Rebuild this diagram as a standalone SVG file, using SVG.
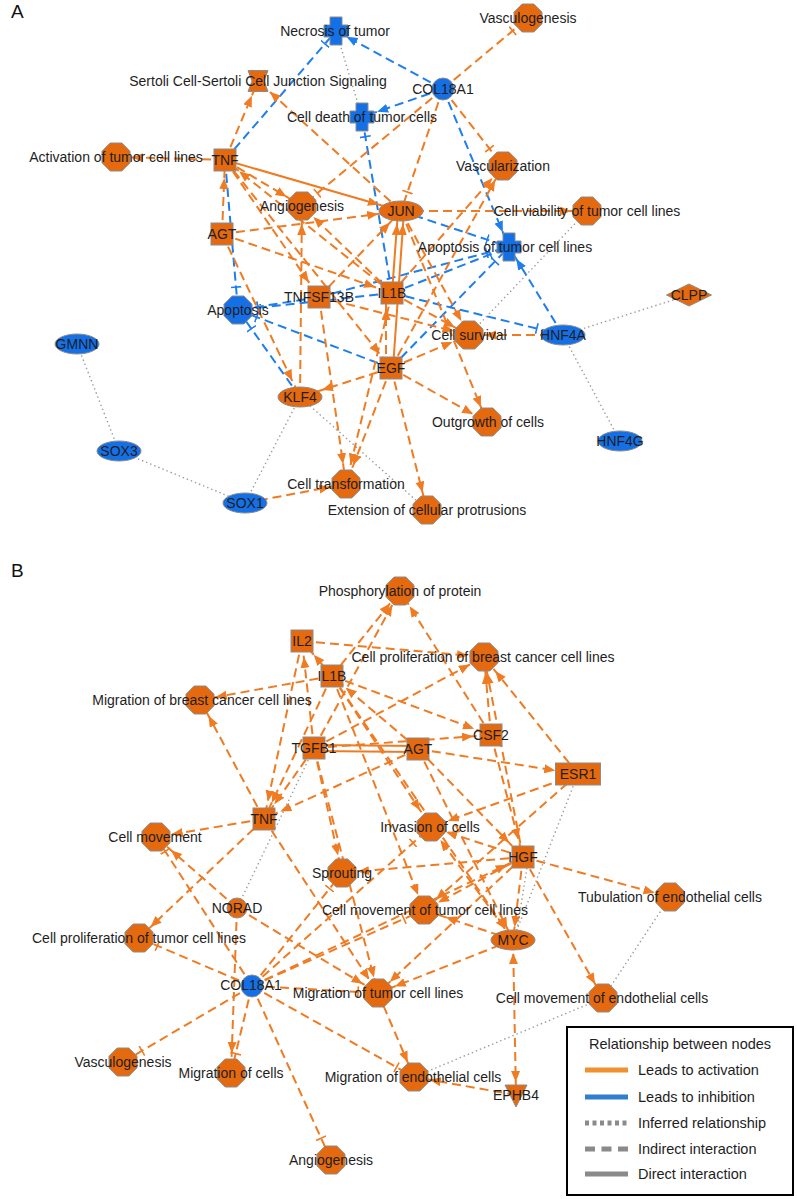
<svg xmlns="http://www.w3.org/2000/svg" xmlns:xlink="http://www.w3.org/1999/xlink" width="797" height="1199" viewBox="0 0 797 1199">
<style>
.o{stroke:#EF7B22;stroke-width:2;stroke-dasharray:9 5;fill:none}
.s{stroke:#EF7B22;stroke-width:2;fill:none}
.b{stroke:#1F7EEB;stroke-width:2;stroke-dasharray:9 5;fill:none}
.d{stroke:#9a9a9a;stroke-width:1.4;stroke-dasharray:1.4 3;fill:none}
.no{fill:#E5690E;stroke:#8c8c8c;stroke-width:1}
.nb{fill:#1570E6;stroke:#8c8c8c;stroke-width:1}
.t{font-family:"Liberation Sans",Arial,sans-serif;font-size:14px;fill:#1e1e1e;text-anchor:middle}
.p{font-family:"Liberation Sans",Arial,sans-serif;font-size:19px;fill:#111}
.lg{font-family:"Liberation Sans",Arial,sans-serif;font-size:14.5px;fill:#1e1e1e}
</style>
<defs>
<path id="oct" d="M-5.8,-14H5.8L14,-5.8V5.8L5.8,14H-5.8L-14,5.8V-5.8Z"/>
<rect id="sq" x="-11" y="-11" width="22" height="22"/>
<ellipse id="ell" rx="22" ry="10"/>
<path id="plus" d="M-6,-14H6V-6H12V6H6V14H-6V6H-12V-6H-6Z"/>
<path id="hg" d="M-10,-10.5H10L6,0L10,10.5H-10L-6,0Z"/>
<path id="dia" d="M-22.5,0L0,-11L22.5,0L0,11Z"/>
<path id="tri" d="M-11,-10H11L0,12Z"/>
<marker id="oa13" markerUnits="userSpaceOnUse" markerWidth="26" markerHeight="10" refX="24" refY="4.5" orient="auto"><path d="M0,0L11,4.5L0,9Z" fill="#EF7B22"/></marker>
<marker id="oa13r" markerUnits="userSpaceOnUse" markerWidth="26" markerHeight="10" refX="24" refY="4.5" orient="auto-start-reverse"><path d="M0,0L11,4.5L0,9Z" fill="#EF7B22"/></marker>
<marker id="oa16" markerUnits="userSpaceOnUse" markerWidth="29" markerHeight="10" refX="27" refY="4.5" orient="auto"><path d="M0,0L11,4.5L0,9Z" fill="#EF7B22"/></marker>
<marker id="oa18" markerUnits="userSpaceOnUse" markerWidth="31" markerHeight="10" refX="29" refY="4.5" orient="auto"><path d="M0,0L11,4.5L0,9Z" fill="#EF7B22"/></marker>
<marker id="oa20" markerUnits="userSpaceOnUse" markerWidth="33" markerHeight="10" refX="31" refY="4.5" orient="auto"><path d="M0,0L11,4.5L0,9Z" fill="#EF7B22"/></marker>
<marker id="oa23" markerUnits="userSpaceOnUse" markerWidth="36" markerHeight="10" refX="34" refY="4.5" orient="auto"><path d="M0,0L11,4.5L0,9Z" fill="#EF7B22"/></marker>
<marker id="ba12" markerUnits="userSpaceOnUse" markerWidth="25" markerHeight="10" refX="23" refY="4.5" orient="auto"><path d="M0,0L11,4.5L0,9Z" fill="#1F7EEB"/></marker>
<marker id="ba14" markerUnits="userSpaceOnUse" markerWidth="27" markerHeight="10" refX="25" refY="4.5" orient="auto"><path d="M0,0L11,4.5L0,9Z" fill="#1F7EEB"/></marker>
<marker id="ba16" markerUnits="userSpaceOnUse" markerWidth="29" markerHeight="10" refX="27" refY="4.5" orient="auto"><path d="M0,0L11,4.5L0,9Z" fill="#1F7EEB"/></marker>
<marker id="ot17" markerUnits="userSpaceOnUse" markerWidth="21" markerHeight="11" refX="18" refY="5.5" orient="auto"><path d="M1,0V11" stroke="#EF7B22" stroke-width="1.6"/></marker>
<marker id="ot20" markerUnits="userSpaceOnUse" markerWidth="24" markerHeight="11" refX="21" refY="5.5" orient="auto"><path d="M1,0V11" stroke="#EF7B22" stroke-width="1.6"/></marker>
<marker id="ot22" markerUnits="userSpaceOnUse" markerWidth="26" markerHeight="11" refX="23" refY="5.5" orient="auto"><path d="M1,0V11" stroke="#EF7B22" stroke-width="1.6"/></marker>
<marker id="ot24" markerUnits="userSpaceOnUse" markerWidth="28" markerHeight="11" refX="25" refY="5.5" orient="auto"><path d="M1,0V11" stroke="#EF7B22" stroke-width="1.6"/></marker>
<marker id="bt17" markerUnits="userSpaceOnUse" markerWidth="21" markerHeight="11" refX="18" refY="5.5" orient="auto"><path d="M1,0V11" stroke="#1F7EEB" stroke-width="1.6"/></marker>
<marker id="bt20" markerUnits="userSpaceOnUse" markerWidth="24" markerHeight="11" refX="21" refY="5.5" orient="auto"><path d="M1,0V11" stroke="#1F7EEB" stroke-width="1.6"/></marker>
<marker id="bt23" markerUnits="userSpaceOnUse" markerWidth="27" markerHeight="11" refX="24" refY="5.5" orient="auto"><path d="M1,0V11" stroke="#1F7EEB" stroke-width="1.6"/></marker>
<marker id="bt27" markerUnits="userSpaceOnUse" markerWidth="31" markerHeight="11" refX="28" refY="5.5" orient="auto"><path d="M1,0V11" stroke="#1F7EEB" stroke-width="1.6"/></marker>
</defs>
<rect width="797" height="1199" fill="#fff"/>
<text class="p" x="11" y="18">A</text>
<text class="p" x="11" y="577">B</text>

<g id="connectors-a">
<line class="d" x1="336" y1="31" x2="362" y2="117"/>
<line class="d" x1="587" y1="211" x2="469" y2="335"/>
<line class="d" x1="563" y1="335" x2="689" y2="295"/>
<line class="d" x1="563" y1="335" x2="620" y2="441"/>
<line class="d" x1="245" y1="503" x2="300" y2="397"/>
<line class="d" x1="245" y1="503" x2="119" y2="451"/>
<line class="d" x1="119" y1="451" x2="77" y2="344"/>
<line class="d" x1="300" y1="397" x2="427" y2="510"/>
<line class="b" x1="443" y1="89" x2="336" y2="31" marker-end="url(#ba12)"/>
<line class="b" x1="225" y1="160" x2="336" y2="31" marker-end="url(#bt17)"/>
<line class="b" x1="443" y1="89" x2="362" y2="117" marker-end="url(#ba16)"/>
<line class="b" x1="392" y1="293" x2="362" y2="117" marker-end="url(#bt20)"/>
<line class="b" x1="443" y1="89" x2="509" y2="247" marker-end="url(#ba16)"/>
<line class="b" x1="401" y1="211" x2="509" y2="247" marker-end="url(#bt23)"/>
<line class="b" x1="319" y1="297" x2="509" y2="247" marker-end="url(#bt23)"/>
<line class="b" x1="392" y1="293" x2="509" y2="247" marker-end="url(#bt20)"/>
<line class="b" x1="391" y1="368" x2="509" y2="247" marker-end="url(#bt20)"/>
<line class="b" x1="563" y1="335" x2="509" y2="247" marker-end="url(#ba14)"/>
<line class="b" x1="392" y1="293" x2="563" y2="335" marker-end="url(#bt27)"/>
<line class="b" x1="225" y1="160" x2="238" y2="310" marker-end="url(#bt23)"/>
<line class="b" x1="319" y1="297" x2="238" y2="310" marker-end="url(#bt20)"/>
<line class="b" x1="392" y1="293" x2="238" y2="310" marker-end="url(#bt20)"/>
<line class="b" x1="391" y1="368" x2="238" y2="310" marker-end="url(#bt20)"/>
<line class="b" x1="300" y1="397" x2="238" y2="310" marker-end="url(#bt23)"/>
<line class="o" x1="443" y1="89" x2="528" y2="18" marker-end="url(#ot20)"/>
<line class="o" x1="443" y1="89" x2="503" y2="166" marker-end="url(#ot22)"/>
<line class="o" x1="443" y1="89" x2="401" y2="211" marker-end="url(#ot20)"/>
<line class="o" x1="443" y1="89" x2="302" y2="206" marker-end="url(#ot20)"/>
<line class="o" x1="225" y1="160" x2="258" y2="81" marker-end="url(#oa16)"/>
<line class="o" x1="401" y1="211" x2="258" y2="81" marker-end="url(#oa16)"/>
<line class="o" x1="225" y1="160" x2="116" y2="157" marker-end="url(#oa16)"/>
<line class="s" x1="225" y1="160" x2="401" y2="211" marker-end="url(#oa23)"/>
<line class="o" x1="225" y1="160" x2="302" y2="206" marker-end="url(#oa18)"/>
<line class="o" x1="392" y1="293" x2="225" y2="160" marker-end="url(#oa18)"/>
<line class="o" x1="222" y1="234" x2="225" y2="160" marker-end="url(#oa18)"/>
<line class="o" x1="225" y1="160" x2="319" y2="297" marker-end="url(#oa18)"/>
<line class="o" x1="225" y1="160" x2="391" y2="368" marker-end="url(#oa18)"/>
<line class="o" x1="222" y1="234" x2="401" y2="211" marker-end="url(#oa23)"/>
<line class="o" x1="222" y1="234" x2="392" y2="293" marker-end="url(#oa18)"/>
<line class="o" x1="222" y1="234" x2="300" y2="397" marker-end="url(#oa18)"/>
<line class="o" x1="300" y1="397" x2="302" y2="206" marker-end="url(#oa18)"/>
<line class="o" x1="392" y1="293" x2="302" y2="206" marker-end="url(#oa16)"/>
<line class="o" x1="319" y1="297" x2="401" y2="211" marker-end="url(#oa16)"/>
<line class="s" x1="392" y1="293" x2="398" y2="211" marker-end="url(#oa13)"/>
<line class="s" x1="393" y1="368" x2="404" y2="211" marker-end="url(#oa13)"/>
<line class="o" x1="386" y1="368" x2="386" y2="293" marker-end="url(#oa16)"/>
<line class="o" x1="392" y1="293" x2="503" y2="166" marker-end="url(#oa16)"/>
<line class="o" x1="391" y1="368" x2="503" y2="166" marker-end="url(#oa16)"/>
<line class="o" x1="401" y1="211" x2="587" y2="211" marker-end="url(#oa16)"/>
<line class="o" x1="401" y1="211" x2="469" y2="335" marker-end="url(#oa16)"/>
<line class="o" x1="401" y1="211" x2="487" y2="422" marker-end="url(#oa16)"/>
<line class="o" x1="391" y1="368" x2="469" y2="335" marker-end="url(#oa18)"/>
<line class="o" x1="319" y1="297" x2="469" y2="335" marker-end="url(#oa16)"/>
<line class="o" x1="392" y1="293" x2="469" y2="335" marker-end="url(#oa16)"/>
<line class="o" x1="563" y1="335" x2="469" y2="335" marker-end="url(#oa16)"/>
<line class="o" x1="391" y1="368" x2="487" y2="422" marker-end="url(#oa16)"/>
<line class="o" x1="391" y1="368" x2="427" y2="510" marker-end="url(#oa18)"/>
<line class="o" x1="391" y1="368" x2="346" y2="484" marker-end="url(#oa20)"/>
<line class="o" x1="319" y1="297" x2="346" y2="484" marker-end="url(#oa20)"/>
<line class="o" x1="392" y1="293" x2="346" y2="484" marker-end="url(#oa20)"/>
<line class="o" x1="391" y1="368" x2="300" y2="397" marker-end="url(#oa23)"/>
<line class="o" x1="245" y1="503" x2="346" y2="484" marker-end="url(#oa16)"/>
</g>

<g id="connectors-b">
<line class="d" x1="578" y1="774" x2="513" y2="940"/>
<line class="d" x1="527" y1="868" x2="517" y2="930"/>
<line class="d" x1="670" y1="897" x2="603" y2="998"/>
<line class="d" x1="603" y1="998" x2="414" y2="1077"/>
<line class="d" x1="237" y1="908" x2="314" y2="748"/>
<line class="o" x1="302" y1="641" x2="484" y2="657" marker-end="url(#oa16)"/>
<line class="o" x1="332" y1="676" x2="302" y2="641" marker-end="url(#oa18)"/>
<line class="o" x1="314" y1="748" x2="302" y2="641" marker-end="url(#oa16)"/>
<line class="o" x1="302" y1="641" x2="264" y2="819" marker-end="url(#oa18)"/>
<line class="o" x1="332" y1="676" x2="264" y2="819" marker-end="url(#oa18)"/>
<line class="o" x1="314" y1="748" x2="264" y2="819" marker-end="url(#oa18)"/>
<line class="o" x1="418" y1="749" x2="264" y2="819" marker-end="url(#oa18)"/>
<line class="o" x1="332" y1="676" x2="200" y2="700" marker-end="url(#oa16)"/>
<line class="o" x1="264" y1="819" x2="200" y2="700" marker-end="url(#oa18)"/>
<line class="o" x1="264" y1="819" x2="156" y2="837" marker-end="url(#oa16)"/>
<line class="o" x1="264" y1="819" x2="139" y2="938" marker-end="url(#oa16)"/>
<line class="o" x1="264" y1="819" x2="378" y2="993" marker-end="url(#oa16)"/>
<line class="o" x1="314" y1="748" x2="342" y2="873" marker-end="url(#oa18)"/>
<line class="o" x1="314" y1="748" x2="400" y2="591" marker-end="url(#oa16)"/>
<line class="o" x1="332" y1="676" x2="400" y2="591" marker-end="url(#oa16)"/>
<line class="o" x1="314" y1="748" x2="484" y2="657" marker-end="url(#oa16)"/>
<line class="s" x1="314" y1="745" x2="418" y2="746"/>
<line class="s" x1="314" y1="751" x2="418" y2="752"/>
<line class="o" x1="314" y1="748" x2="491" y2="735" marker-end="url(#oa18)"/>
<line class="o" x1="332" y1="676" x2="491" y2="735" marker-end="url(#oa18)"/>
<line class="o" x1="332" y1="676" x2="431" y2="827" marker-end="url(#oa20)"/>
<line class="o" x1="418" y1="749" x2="332" y2="676" marker-end="url(#oa18)"/>
<line class="o" x1="491" y1="735" x2="484" y2="657" marker-end="url(#oa16)"/>
<line class="o" x1="523" y1="857" x2="484" y2="657" marker-end="url(#oa16)"/>
<line class="o" x1="491" y1="735" x2="400" y2="591" marker-end="url(#oa18)"/>
<line class="o" x1="578" y1="774" x2="484" y2="657" marker-end="url(#oa18)"/>
<line class="o" x1="578" y1="774" x2="431" y2="827" marker-end="url(#oa18)"/>
<line class="o" x1="578" y1="774" x2="424" y2="910" marker-end="url(#oa16)"/>
<line class="o" x1="418" y1="749" x2="578" y2="774" marker-end="url(#oa23)"/>
<line class="o" x1="418" y1="749" x2="523" y2="857" marker-end="url(#oa20)"/>
<line class="o" x1="491" y1="735" x2="523" y2="857" marker-end="url(#oa18)"/>
<line class="o" x1="523" y1="857" x2="431" y2="827" marker-end="url(#oa16)"/>
<line class="o" x1="513" y1="940" x2="431" y2="827" marker-end="url(#oa16)"/>
<line class="o" x1="523" y1="857" x2="342" y2="873" marker-end="url(#oa16)"/>
<line class="o" x1="523" y1="857" x2="424" y2="910" marker-end="url(#oa16)"/>
<line class="o" x1="523" y1="857" x2="513" y2="940" marker-end="url(#oa13)"/>
<line class="o" x1="523" y1="857" x2="670" y2="897" marker-end="url(#oa16)"/>
<line class="o" x1="523" y1="857" x2="603" y2="998" marker-end="url(#oa16)"/>
<line class="o" x1="523" y1="857" x2="378" y2="993" marker-end="url(#oa16)"/>
<line class="o" x1="513" y1="940" x2="424" y2="910" marker-end="url(#oa23)"/>
<line class="o" x1="513" y1="940" x2="378" y2="993" marker-end="url(#oa18)"/>
<line class="o" x1="513" y1="940" x2="516" y2="1095" marker-start="url(#oa13r)" marker-end="url(#oa13)"/>
<line class="o" x1="516" y1="1095" x2="414" y2="1077" marker-end="url(#oa16)"/>
<line class="o" x1="378" y1="993" x2="414" y2="1077" marker-end="url(#oa16)"/>
<line class="o" x1="252" y1="986" x2="414" y2="1077" marker-end="url(#ot20)"/>
<line class="o" x1="252" y1="986" x2="331" y2="1160" marker-end="url(#ot24)"/>
<line class="o" x1="252" y1="986" x2="231" y2="1073" marker-end="url(#ot20)"/>
<line class="o" x1="237" y1="908" x2="231" y2="1073" marker-end="url(#oa20)"/>
<line class="o" x1="252" y1="986" x2="123" y2="1062" marker-end="url(#ot22)"/>
<line class="o" x1="252" y1="986" x2="139" y2="938" marker-end="url(#ot20)"/>
<line class="o" x1="252" y1="986" x2="378" y2="993" marker-end="url(#ot20)"/>
<line class="o" x1="252" y1="986" x2="424" y2="910" marker-end="url(#ot22)"/>
<line class="o" x1="252" y1="986" x2="342" y2="873" marker-end="url(#ot20)"/>
<line class="o" x1="252" y1="986" x2="431" y2="827" marker-end="url(#ot24)"/>
<line class="o" x1="252" y1="986" x2="156" y2="837" marker-end="url(#ot17)"/>
<line class="o" x1="237" y1="908" x2="156" y2="837" marker-end="url(#oa20)"/>
<line class="o" x1="237" y1="908" x2="378" y2="993" marker-end="url(#oa18)"/>
<line class="o" x1="418" y1="749" x2="513" y2="940" marker-end="url(#oa13)"/>
<line class="o" x1="332" y1="676" x2="513" y2="940" marker-end="url(#oa13)"/>
<line class="o" x1="332" y1="676" x2="424" y2="910" marker-end="url(#oa16)"/>
<line class="o" x1="314" y1="748" x2="378" y2="993" marker-end="url(#oa16)"/>
<line class="o" x1="252" y1="986" x2="523" y2="857" marker-end="url(#oa18)"/>
</g>

<g id="a-necrosis"><use xlink:href="#plus" x="336" y="31" class="nb"/><text class="t" x="335" y="36">Necrosis of tumor</text></g>
<g id="a-vasculogenesis"><use xlink:href="#oct" x="528" y="18" class="no"/><text class="t" x="528" y="23">Vasculogenesis</text></g>
<g id="a-sertoli"><use xlink:href="#hg" x="258" y="81" class="no"/><text class="t" x="258" y="86">Sertoli Cell-Sertoli Cell Junction Signaling</text></g>
<g id="a-col18a1"><circle cx="443" cy="89" r="11" class="nb"/><text class="t" x="443" y="94">COL18A1</text></g>
<g id="a-celldeath"><use xlink:href="#plus" x="362" y="117" class="nb"/><text class="t" x="362" y="122">Cell death of tumor cells</text></g>
<g id="a-activation"><use xlink:href="#oct" x="116" y="157" class="no"/><text class="t" x="116" y="162">Activation of tumor cell lines</text></g>
<g id="a-tnf"><use xlink:href="#sq" x="225" y="160" class="no"/><text class="t" x="225" y="165">TNF</text></g>
<g id="a-vascularization"><use xlink:href="#oct" x="503" y="166" class="no"/><text class="t" x="503" y="171">Vascularization</text></g>
<g id="a-angiogenesis"><use xlink:href="#oct" x="302" y="206" class="no"/><text class="t" x="302" y="211">Angiogenesis</text></g>
<g id="a-jun"><use xlink:href="#ell" x="401" y="211" class="no"/><text class="t" x="401" y="216">JUN</text></g>
<g id="a-viability"><use xlink:href="#oct" x="587" y="211" class="no"/><text class="t" x="587" y="216">Cell viability of tumor cell lines</text></g>
<g id="a-agt"><use xlink:href="#sq" x="222" y="234" class="no"/><text class="t" x="222" y="239">AGT</text></g>
<g id="a-apoptosis-tumor"><use xlink:href="#plus" x="509" y="247" class="nb"/><text class="t" x="505" y="252">Apoptosis of tumor cell lines</text></g>
<g id="a-tnfsf13b"><use xlink:href="#sq" x="319" y="297" class="no"/><text class="t" x="319" y="302">TNFSF13B</text></g>
<g id="a-il1b"><use xlink:href="#sq" x="392" y="293" class="no"/><text class="t" x="392" y="298">IL1B</text></g>
<g id="a-apoptosis"><use xlink:href="#oct" x="238" y="310" class="nb"/><text class="t" x="238" y="315">Apoptosis</text></g>
<g id="a-clpp"><use xlink:href="#dia" x="689" y="295" class="no"/><text class="t" x="689" y="300">CLPP</text></g>
<g id="a-survival"><use xlink:href="#oct" x="469" y="335" class="no"/><text class="t" x="469" y="340">Cell survival</text></g>
<g id="a-hnf4a"><use xlink:href="#ell" x="563" y="335" class="nb"/><text class="t" x="563" y="340">HNF4A</text></g>
<g id="a-gmnn"><use xlink:href="#ell" x="77" y="344" class="nb"/><text class="t" x="77" y="349">GMNN</text></g>
<g id="a-egf"><use xlink:href="#sq" x="391" y="368" class="no"/><text class="t" x="391" y="373">EGF</text></g>
<g id="a-klf4"><use xlink:href="#ell" x="300" y="397" class="no"/><text class="t" x="300" y="402">KLF4</text></g>
<g id="a-outgrowth"><use xlink:href="#oct" x="487" y="422" class="no"/><text class="t" x="488" y="427">Outgrowth of cells</text></g>
<g id="a-hnf4g"><use xlink:href="#ell" x="620" y="441" class="nb"/><text class="t" x="620" y="446">HNF4G</text></g>
<g id="a-sox3"><use xlink:href="#ell" x="119" y="451" class="nb"/><text class="t" x="119" y="456">SOX3</text></g>
<g id="a-transformation"><use xlink:href="#oct" x="346" y="484" class="no"/><text class="t" x="346" y="489">Cell transformation</text></g>
<g id="a-sox1"><use xlink:href="#ell" x="245" y="503" class="nb"/><text class="t" x="245" y="508">SOX1</text></g>
<g id="a-extension"><use xlink:href="#oct" x="427" y="510" class="no"/><text class="t" x="427" y="515">Extension of cellular protrusions</text></g>

<g id="b-phosphorylation"><use xlink:href="#oct" x="400" y="591" class="no"/><text class="t" x="400" y="596">Phosphorylation of protein</text></g>
<g id="b-il2"><use xlink:href="#sq" x="302" y="641" class="no"/><text class="t" x="302" y="646">IL2</text></g>
<g id="b-prolif-breast"><use xlink:href="#oct" x="484" y="657" class="no"/><text class="t" x="483" y="662">Cell proliferation of breast cancer cell lines</text></g>
<g id="b-il1b"><use xlink:href="#sq" x="332" y="676" class="no"/><text class="t" x="332" y="681">IL1B</text></g>
<g id="b-migration-breast"><use xlink:href="#oct" x="200" y="700" class="no"/><text class="t" x="202" y="705">Migration of breast cancer cell lines</text></g>
<g id="b-csf2"><use xlink:href="#sq" x="491" y="735" class="no"/><text class="t" x="491" y="740">CSF2</text></g>
<g id="b-tgfb1"><use xlink:href="#sq" x="314" y="748" class="no"/><text class="t" x="314" y="753">TGFB1</text></g>
<g id="b-agt"><use xlink:href="#sq" x="418" y="749" class="no"/><text class="t" x="418" y="754">AGT</text></g>
<g id="b-esr1"><rect x="555.5" y="763" width="45" height="22" class="no"/><text class="t" x="578" y="779">ESR1</text></g>
<g id="b-tnf"><use xlink:href="#sq" x="264" y="819" class="no"/><text class="t" x="264" y="824">TNF</text></g>
<g id="b-cellmovement"><use xlink:href="#oct" x="156" y="837" class="no"/><text class="t" x="155" y="842">Cell movement</text></g>
<g id="b-invasion"><use xlink:href="#oct" x="431" y="827" class="no"/><text class="t" x="430" y="832">Invasion of cells</text></g>
<g id="b-hgf"><use xlink:href="#sq" x="523" y="857" class="no"/><text class="t" x="523" y="862">HGF</text></g>
<g id="b-sprouting"><use xlink:href="#oct" x="342" y="873" class="no"/><text class="t" x="342" y="878">Sprouting</text></g>
<g id="b-tubulation"><use xlink:href="#oct" x="670" y="897" class="no"/><text class="t" x="670" y="902">Tubulation of endothelial cells</text></g>
<g id="b-norad"><circle cx="237" cy="908" r="10" class="no"/><text class="t" x="237" y="913">NORAD</text></g>
<g id="b-movement-tumor"><use xlink:href="#oct" x="424" y="910" class="no"/><text class="t" x="425" y="915">Cell movement of tumor cell lines</text></g>
<g id="b-prolif-tumor"><use xlink:href="#oct" x="139" y="938" class="no"/><text class="t" x="139" y="943">Cell proliferation of tumor cell lines</text></g>
<g id="b-myc"><use xlink:href="#ell" x="513" y="940" class="no"/><text class="t" x="513" y="945">MYC</text></g>
<g id="b-col18a1"><circle cx="252" cy="986" r="11" class="nb"/><text class="t" x="251" y="990">COL18A1</text></g>
<g id="b-migration-tumor"><use xlink:href="#oct" x="378" y="993" class="no"/><text class="t" x="378" y="998">Migration of tumor cell lines</text></g>
<g id="b-movement-endo"><use xlink:href="#oct" x="603" y="998" class="no"/><text class="t" x="602" y="1003">Cell movement of endothelial cells</text></g>
<g id="b-vasculogenesis"><use xlink:href="#oct" x="123" y="1062" class="no"/><text class="t" x="123" y="1067">Vasculogenesis</text></g>
<g id="b-migration-cells"><use xlink:href="#oct" x="231" y="1073" class="no"/><text class="t" x="231" y="1078">Migration of cells</text></g>
<g id="b-migration-endo"><use xlink:href="#oct" x="414" y="1077" class="no"/><text class="t" x="413" y="1082">Migration of endothelial cells</text></g>
<g id="b-ephb4"><use xlink:href="#tri" x="516" y="1095" class="no"/><text class="t" x="516" y="1100">EPHB4</text></g>
<g id="b-angiogenesis"><use xlink:href="#oct" x="331" y="1160" class="no"/><text class="t" x="331" y="1165">Angiogenesis</text></g>

<g id="legend">
<rect x="567" y="1027" width="226" height="168" fill="#fff" stroke="#000" stroke-width="2"/>
<text class="lg" x="680" y="1049" text-anchor="middle">Relationship between nodes</text>
<line x1="585" y1="1070" x2="628" y2="1070" stroke="#F0902F" stroke-width="5"/>
<text class="lg" x="638" y="1075">Leads to activation</text>
<line x1="585" y1="1097" x2="628" y2="1097" stroke="#2F7FCC" stroke-width="5"/>
<text class="lg" x="638" y="1102">Leads to inhibition</text>
<line x1="585" y1="1123" x2="628" y2="1123" stroke="#8a8a8a" stroke-width="5" stroke-dasharray="4 3.5"/>
<text class="lg" x="638" y="1128">Inferred relationship</text>
<line x1="585" y1="1149" x2="628" y2="1149" stroke="#8a8a8a" stroke-width="5" stroke-dasharray="10 6.5"/>
<text class="lg" x="638" y="1154">Indirect interaction</text>
<line x1="585" y1="1174" x2="628" y2="1174" stroke="#8a8a8a" stroke-width="5"/>
<text class="lg" x="638" y="1179">Direct interaction</text>
</g>
</svg>
